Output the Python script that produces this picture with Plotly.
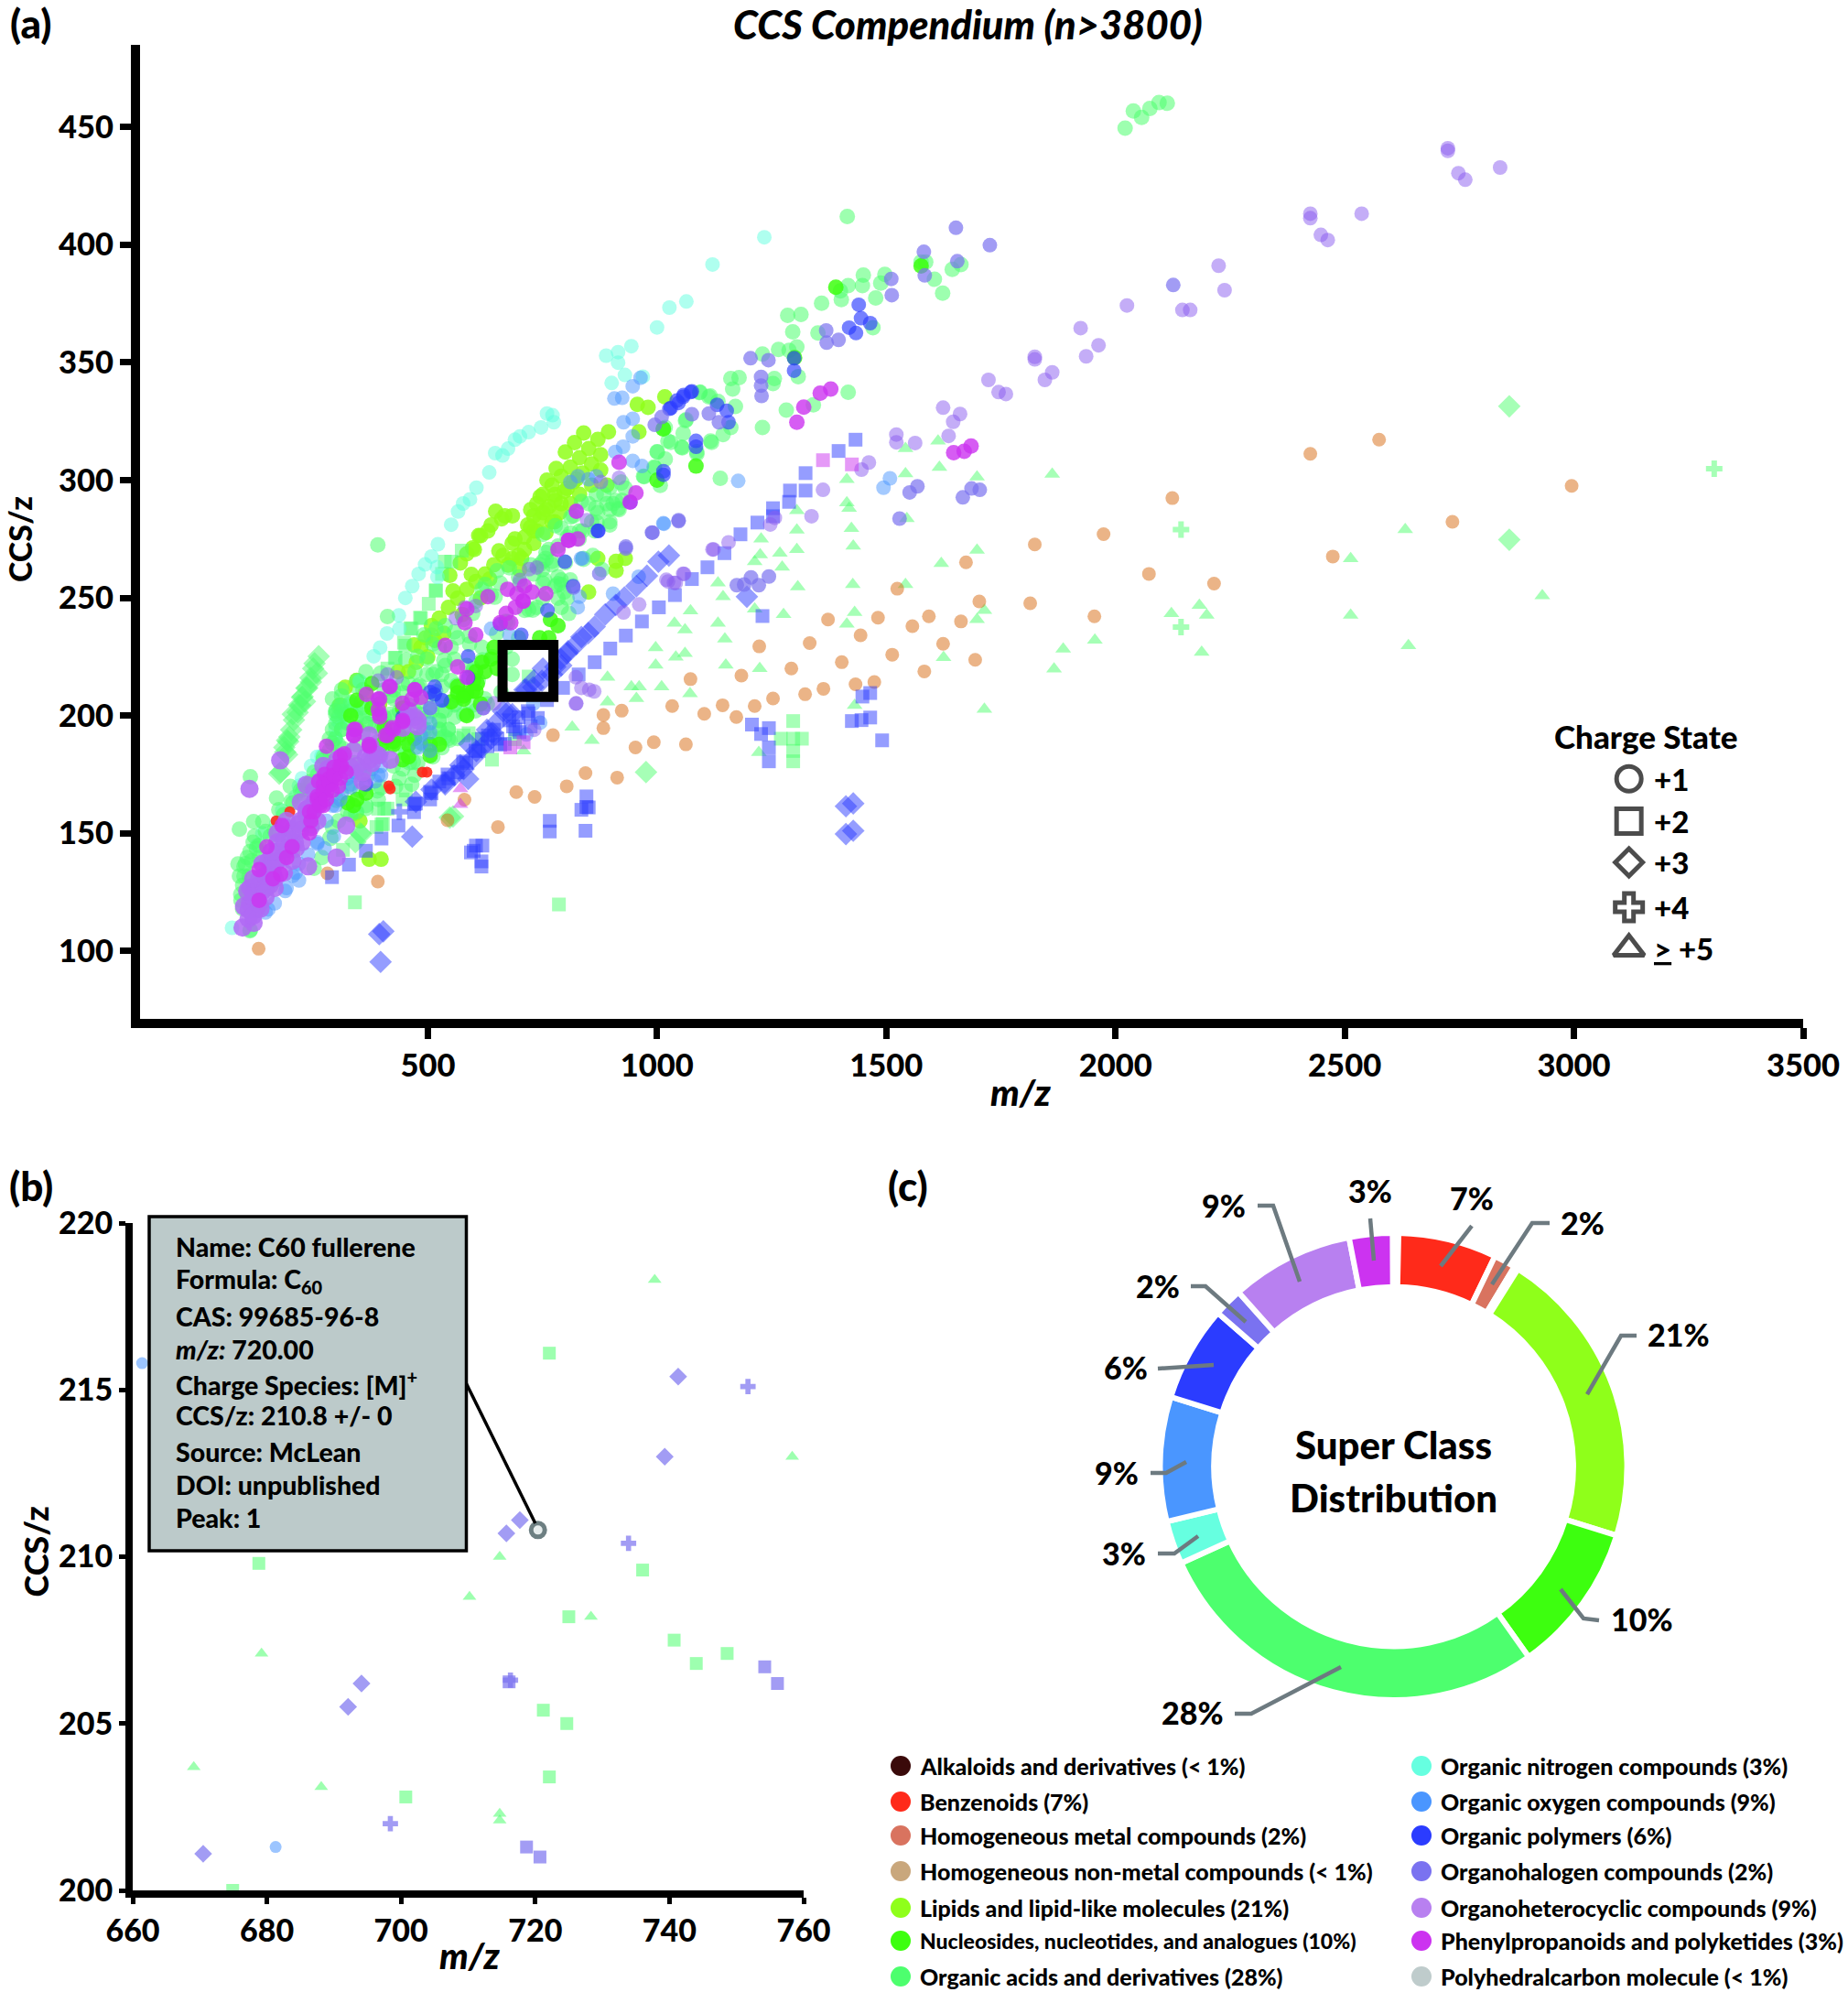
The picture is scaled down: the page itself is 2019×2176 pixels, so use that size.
import plotly.graph_objects as go

W, H = 2019, 2176
FONT = "Lato"
BLACK = "#000000"
LEADER = "#6d7a80"

ACID, LIPID, NUCLEO = "#4dff6e", "#8fff1a", "#3dff0f"
NITRO, OXY, POLY = "#5fffe0", "#4a96ff", "#2b3cff"
HALO, HETERO, HETERO_PALE, PHENYL = "#7a72f0", "#b06af5", "#8a5cf0", "#cc33f0"
BENZ, ORANGE = "#ff2a1a", "#d86a10"

# panel (a), (m/z, CCS/z)
hetero_circle = [(2725,441),(2725,439.9),(2748,430.4),(2763,427.6),(2839,432.8),(2425,413.2),(2425,411.3),(2448,404.2),(2463,402),(2537,413.2),
    (2225,391.1),(2238,380.7),(2025,374.2),(2146,372.3),(2163,372.3),(1924,364.6),(1963,357.3),(1936,352.6),(1824,352.4),(1824,351.3),
    (1862,345.8),(1846,342.6),(1723,342.6),(1745,337.4),(1761,336.6),(1624,330.8),(1661,328.1),(1646,324.8),(1636,318.8),(1563,315.8),
    (1522,319.4),(1522,316.1),(1462,307.5),(1446,304.5),(1362,295.9),(1337,284.7),(1247,281.2),(1257,284),(1156,273.6),(1121,270.6),
    (1024,257),(1041,256.4),(1059,260.2),(961,247.2),(927,243.8),(823,216.3),(852,211),(835,211.8),(863,210.3),(823,205.1),(732,194),
    (877.4,299.2),(917.2,301),(824,286.8),(847.4,283),(721,262.2),(737.7,262.9),(1020.3,257.7),(1057,260.3),(1037,256.4),(1123.4,270.6),
    (701,257.6),(604.6,246.6),(581,246),(561,241.4),(824,205.2),(621,203.2),(644.5,205.2),(412,217.5),(432,216.2),(392,214.9)]
hetero_blob = [(109,113.8),(112,120.3),(112,126.8),(139,125.5),(126,117.7),(146,122.9),(166,126.8),(132,130.7),(162,133.3),(186,133.3),(152,138.4),(182,139.7),
    (205,138.4),(172,146.2),(199,147.5),(222,151.4),(189,152.7),(225,146.2),(245,152.7),(222,155.3),(259,155.3),(245,157.9),(372,191.6),(358,172.1),(458,199.4),(478,198),
    (418,181.2),(372,181.2),(385,183.8),(338,185.1),(332,178),(322,153.3),(301,139.7),(239,136),(235,170.6),(223,163.3),(178,181),(111,168.9),(272,178.6),
    (96,110),(120,112),(135,118),(155,128),(120,125),(170,138),(210,146),(235,160),(255,164),(150,130),
    (109,117.7),(99,119),(119,122.9),(106,125.5),(132,128.1),(119,130.7),(146,132),(139,137.1),(159,137.1),(172,142.3),(159,142.3),(186,147.5),(172,150.1),(205,151.4),(192,155.3),
    (219,154),(235,157.9),(252,163),(239,160.5),(265,167),(252,168.2),(279,172.1),(265,172.1),(295,177.3),(282,177.3),(312,182.5),(302,181.2),(195,143.6),(212,143.6),(146,126.8),
    (166,130.7),(132,120.3),(119,115.1),(365,182.5),(378,179.9),(345,178.6),(358,176),(458,202),(471,199.4),(445,194.8),(478,195.5),(375,187),(392,183.2)]
phenyl_circle = [(132,121.6),(162,130.7),(132,134.6),(179,132.6),(192,139.7),(204,144.3),(149,144.3),(182,153.3),(242,150.1),(245,155.3),(252,159.2),(265,163),(279,167),
    (259,165.7),(289,170.8),(272,161.8),(299,174.7),(285,173.4),(312,178.6),(309,182.5),(272,170.8),(342,194.2),(338,191.6),(373,187),(395,199.4),(395,207.1),(366,209),(416,212.3),
    (471,211),(445,197.4),(422,194.8),(408,191.6),(465,207),(485,207.8),(392,202.6),(604.6,234.3),(538,229.8),(581,239.5),(585,245.3),(674,253.7),(727.6,252.5),(757.5,251.8),(708,248.6),
    (671,243.4),(681,239.5),(658,239.5),(691,246),(711,255),(784,270.6),(807,274.5),(827,275),(824,286.8),(392,207),(418,212.3),(472,211),(445,205.2),(395,200.6),(445,198),(425,194.1),
    (412,191.5),(339,194.1),(339,191.5),(372,187.7),(279,187),(585,216.2),(565,220.7),(631,250.5),(917.2,307.6),(954,294.6),(941,290.7),(807.5,274.5),(694.5,251.8),(707.8,248.6),
    (1379,338.7),(1356,337),(1320,331),(1305,324.6),(1647,311.7),(1670,312.3),(1685,314.5),(295,178),(305,170),(275,175),(262,172),
    (242,159.2),(259,164.4),(272,167.6),(285,171.5),(295,174.7),(309,178.6),(318,183.8),(265,161.8),(279,164.4),(292,168.2),(309,173.4),(322,176)]
phenyl_triangle = [(571,169),(571,162.3)]
phenyl_square = [(680,186.5),(709,188.7),(1362,308.5),(1425,306.7)]
orange_circle = [(2425,311.2),(2575,317.2),(2995,297.6),(2735,282.3),(2474,267.6),(2124,292.4),(1974,277.1),(1824,272.7),(1674,265.1),(2073,260.2),
    (2215,256.1),(1703,248.5),(1814,247.7),(1593,242.2),(1663,240),(1954,242.2),(1557,238),(1624,230.5),(1694,223.7),(1583,218.8),(1524,253.9),
    (1373,240.8),(1482,241.6),(1444,234.1),(1333,230.8),(1223,229.4),(1513,225.9),(1403,222.7),
    (1293,220),(1184,217),(1073,215.5),(1474,214.3),(1433,213.3),(1363,211.4),(1323,209.1),(1253,207.3),(1213,204.1),(1143,204.4),(1033,204.1),
    (1173,199.4),(1103,200.8),(923,202.1),(883,200.3),(883,194.7),(993,188.7),(953,186.5),(1063,187.8),(844,175.6),(913,173.7),(803,170),(693,167.5),
    (733,165.5),(653,152.7),(580,164.3),(543,155.6),(391,129.5),(281,133),(131,101),(773,191.7)]
poly_square = [(1253,284.7),(1219,282),(1182,277),(1147,269),(1110,263),(1076,258),(1039,251.2),(1004,246),(967,240),(932,234),(898,228.5),(864,222.7),
    (829,217.5),(795,211.8),(760,206.6),(720,201),(686,195.4),(652,190.2),(611,185),(577,180.5),(543,175),(508,167),(474,162.7),(1433,317.2),(1396,312.4),
    (1324,303),(1324,295.6),(1290,295.6),(1288,290.8),(1253,288.1),(1230,242.3),(1465,209.6),(1448,208.1),(1465,199.2),(1446,198.1),(1425,197.7),(1491,189.5),
    (1207,196.2),(1244,194.7),(1227,192.2),(1244,186.5),(1244,180.6),(846,165.7),(846,161.2),(835,160),(851,161),(766,155.3),(766,150.8),(844,151.1),
    (594,141.9),(605,144.8),(619,144.8),(600,142.6),(617,138.1),(617,135.9),(291,131.4),(328,136.7),(365,142.6),(399,147.8),(436,153.3),(470,159),
    (740,199),(700,193),(668,188),(630,187),(525,172),(545,173.4),(565,176),(584,179.9),(604,185.1),(631,191.6),(505,167.6),(471,162.4),(505,164.4),
    (678,198),(644.5,194),(618,190.2),(718,201.9),(658,187.7),(691,194.1),(724.3,195.4),(698,199.3)]
poly_diamond = [(1026,268),(1003,265.4),(978,259.4),(955,255),(929,250.2),(887,243),(864,237.8),(835,233.4),(806,227.4),(778,220.7),(749,214.8),(715,211),
    (674,201.4),(629,194),(606,185),(571,179),(537,171.6),(508,168.6),(474,163.4),(466,148.6),(588,173.1),(1412,161.5),(1428,162.7),(1412,149.7),(1428,151.1),
    (394,107.2),(403,108.4),(397,95.4),(1196,250.5),(910,247),(850,235),(790,224),(730,212),(650,197),(590,188),(538,170.8),(558,174.7),(578,177.3),(598,181.9),(618,186.4),(638,190.3),
    (824,230.4),(804,226.5),(791,221.3),(771,217.5),(751,220),(731,214.9),(711,211),(684.4,200.6),(664,201.9),(641,192.8)]
poly_plus = [(438,159.2)]
halo_circle = [(1174,255.4),(1190,255.7),(1205,258.7),(1222,255.4),(1244,259.1),(1582,397),(1584,387),(1511,385.5),(1512,378.6),(1369,363.6),(1396,359.6),(1370,358.4),
    (1204,351.8),(1243,351),(1227,343.9),(1227,340.2),(1228,335.8),(1568,297.4),(1551,294.8),(1529,283.7),(1047,282.6),(990,277.7),(932,271.8),
    (1652,407.2),(1726,399.8),(1655,393),(1667,292.7),(1686,296.5),(1704,295.9),(2126,382.9),(1113,328.3),(1135,324.6),(1076,328),(995,323.5),(1010,326.8),
    (989,277.8),(1047,283),(931.9,271),(874,260.3),(817.5,254.4),(621,203.2),(505,203.2)]
poly_circle = [(1440,374.5),(1445,368.8),(1465,366.7),(1419,364.8),(1434,362.5),(1299,351.8),(1299,346.5),(1076,337.7),(1058,336.2),(1043,333.8),(1030,330.6),
    (1131,332),(1152,329.5),(1156,324.6),(1085,316.7),(1085,314.2),(1014,303.8),(1014,302.3),(872,278.5),(515,212.3),(515,209),(531,206.5),(588,225.2),(658,238.9),(761,244.7),(799,265.4),
    (588,216.2),(704,234.3),(817,255),(1047,332.8),(1027,330.3),(1073.5,337.4),(1057,335.4),(870.7,278.4),(941.9,290.7),(445,199.4),(365,170.8),(505,210)]
oxy_circle = [(1177,299.7),(1508,300.8),(1494,296.8),(1015,281.5),(947,339.9),(964,343.5),(907,334.7),(924,335),(947,326.1),(927,324.6),(947,318.6),(926,314.2),(909,312),
    (967,306),(947,308.2),(505,203.2),(518,210.4),(531,206.5),(505,196.8),(295,148.8),(219,130),(189,125.5),(259,145.6),(275,143.6),(392,174.7),(332,169.5),(309,164.4),(292,161.8),(345,174.7),
    (485,191.6),(485,188.3),(505,185.1),(212,133.3),(152,117.7),(638,236.9),(834,266.7),(827,246),(831,250.5),(678,234.3),(837.5,266.8),(1013.7,281.7),(960,259),(904,251.8),(730,205),(745,197),(715,192),
    (192,126.8),(205.5,132),(219,137.1),(239,141),(259,146.2),(279,155.3),(298.6,161.8),(312,167),(332,170.8),(352,177.3),(378,177.3),(398,174.7),(385,172.1),(338,176),(325,173.4),(146,116.4),(166,120.3),
    (398,182.5),(505,192.9),(478,186.4),(398,178.6),(811,299.2),(827.5,301.7),(850.7,300.4),(867.4,301.7)]
nitro_circle = [(1234,403.2),(1121,391.6),(1064,375.9),(1027,373.3),(1000,364.9),(944,356.9),(915,354.4),(889,352.9),(915,349.9),(930,344.7),(901,341.3),(969,344),
    (772,327.6),(760,328.3),(775,324.6),(747,322.4),(720,320.4),(701,318.6),(690,317.2),(675,313.4),(647,311.5),(663,310.5),(634,303.3),(606,296.8),(592,291.9),(577,290.1),
    (566,286.7),(551,281.1),(522,272.8),(508,267.6),(494,264.2),(520,263.1),(480,260.2),(466,255),(451,250),(437,242.6),(411,234.9),(396,228.9),(382,225.2),
    (351,214.8),(331,205.1),(308,196.9),(268,182.8),(227,168.6),(182,159.7),(127,144.8),(73,109.9),(352,214.3),(338,204.5),(318,197.4),(298,190.9),(521,258.9),(438,236.9),(312,199.3),(299,190.2),
    (258.7,182.5),(245.4,178.6),(225.5,173.4),(218.8,170.2),(212,165.7),(169,154),(139,150),(312,201.9),(302,198),(298.6,194.2)]
acid_fill = [(508,234),(453,223.5),(398,218),(343,212.7),(301,202),(536,223.5),(591,234),(481,212.7),(426,207.3),(370,196.5),(315,185.8),(274,175),(563.5,212.7),(508,202),(453,193.8),(398,185.8),
    (356,175),(301,164.2),(246,153.4),(205,142.6),(163,131.8),(536,191),(467,180.4),(398,169.6),(343,158.8),(287.5,148),(646,250.5),(701,255.9),(757,266.6),(812,277.4),(867,288.2),(922,299),
    (674,239.7),(619,223.5),(729,245),(784,255.9),(839.5,266.6)]
acid_circle = [(2021,449.5),(2039,456.8),(2057,454.1),(2075,457.9),(2095,460.4),(2113,460.1),(1576,392.7),(1586,392.7),(1605,385.4),(1623,379.4),(1644,389.5),(1663,391.6),
    (1415,412),(1450,387.1),(1448,382.6),(1417,382.6),(1400,380.4),(1402,376.7),(1359,375.2),(1497,387.4),(1488,383.7),(1477,377.4),(1471,364.8),(1285,370),(1314,370.4),(1296,363),
    (1351,362.5),(1265,355.5),(1288,355.1),(1305,356.6),(1230,353.6),(1161,343.2),(1179,343.6),(1165,338.7),(1256,343.2),(1253,341),(1308,344),(1417,337.3),(1341,332),(1282,329.8),
    (1230,322.4),(1093,337.2),(1116,335.8),(1133,333.5),(1171,331.3),(1161,322.4),(1144,319.4),(1119,316.1),(1087,311.2),(1055,313.7),(1030,316.1),(1001,312),(1007,297.8),(995,305.3),
    (1018,309),(972,301.5),(1138,300.8),(1062,325.3),(1018,322.4),(915,288),(898,297),(835,291),(812,284.4),(778,280.7),(869,282),(1013.7,321.8),(1063.6,325.7),(1093.5,337.4),(1113,335.4),(1057,319.9),
    (1023.7,316.6),(1053.6,314),(1116.7,316.6),(1086.8,312.1),(1000,312.1),(993.7,305.6),(970.5,301.7),(910.6,291.4),(917.2,287.5),(890.6,290),(897,282.3),(867.4,294),(930.6,296.6),(784,259),(791,255.7),(771,265.5),(754.3,257.7),
    (113,109),(113,174),(391,272.5),(89,151.8),(122,148.8),(146,150.8),(112,142.3),(102,137.1),(99,131.9),(92,124.2),(112,108.6),(116,138.4),(132,139.7),(126,143.6),(156,148.8),(202,163.7),(222,168.2),(245,172.1),(259,174.7),
    (269,139.7),(252,135.2),(332,157.9),(365,161.8),(352,168.2),(390,168),(471,174.7),(511,182.5),(531,186.4),(578,200.6),(598,204.5),(548,189.6),(525,198),(438,186.4),(425,191.6),(405,199.4),(345,199.4),(312,201.9),(305,203.9),
    (312,194.2),(292,188.3),(272,182.5),(345,187.7),(625,255.7),(651,261.5),(678,262.8),(618,253.7),(605,248.6),(638,251.2),(598,243.4),(578,240.8),(558,235.6),(538,238.2),(518,236.9),(511,230.4),(491.5,234.3),(472,218.7),(518,218.7),
    (531,212.3),(565,208.4),(618,229.1),(591,230.4),(671,229.1),(684,224),(684,217.5),(698,233),(731,260.2),(751,277),(771,264.1),(791,257.6),(784,249.9),(804,249.9),(412,242.1),(365,218.7),(345,214.9),(312,204.5),(299,196.7),(319,200.6),
    (378,200.6),(412,195.4),(418,200.6),(445,209.7),(478,212.3),(511,217.5),(485,205.8),(545,190.3),(525,194.1),(498,199.3),(405,211),(425,211),(458,213.6),(355,205.8),(305,187.7),(340,180),(370,175),(400,185),(430,170),(460,180),(300,182),
    (280,170),(325,170),(150,135),(105,125),(96,118),(110,132),(140,155),(175,160),(200,170),(170,165),(120,155),(670,240),(640,225),(650,235),(610,215),(720,245),(750,262),(830,275),(860,268),(880,262),(800,265),(560,205),(630,205),(660,210),(600,220),
    (305,199.4),(325,196.8),(345,201.9),(365,196.8),(385,195.5),(418,189),(451.5,190.3),(471.5,186.4),(451.5,183.8),(478,179.9),(445,177.3),(438,173.4),(465,170.8),(425,178.6),(392,164.4),(365,160.5),(345,159.2),(325,159.2),(305,155.3),(292,152.7),
    (511,208.4),(538,202),(558,204.5),(545,194.2),(565,190.3),(604,202),(624.5,207.1),(525,190.3),(525,194.2),(505,190.3),(491.5,194.2),(485,200.6),(425,199.4),(358,203.2),(332,205.8),(312,208.4),(298.6,201.9),(312,211),(292,207.1),
    (99,135.9),(89,131.9),(96,128),(92.5,121.6),(86,137),(119,146.2),(106,139.7),(132,144.9),(165.6,151.4),(185.6,157.9),(205.5,163),(225.5,167),(238.8,170.8),(252,176),(272,181.2),(285,185.1),(298.6,190.3),
    (525,229),(551,229),(565,233),(538,221.3),(558,224),(585,221.3),(598,218.7),(498,224),(478,225.2),(498,217.5),(531,217.5),(551,214.9),(445,213.6),(418,208.4),(458,204.5),(378,204.5),(358.5,211),(332,201.9),(358.5,199.3),(398.5,198),(438,201.9),(472,201.9),
    (531,201.9),(558,199.3),(585,200.6),(498,194.1),(525,198),(545,194.1),(358.5,192.8),(392,189),(299,200.6),(312,194.1),(292,194.1),(285.4,190.2),(465,190.2),(491.5,187.7),(398.5,194.1),
    (658,256.3),(698,258.9),(744,264.1),(751,249.9),(777.5,255),(797.5,252.5),(751,256.3),(737.6,246),(810.8,257.6),(711,244.7),(791,246),(807.5,243.4),
    (904,290),(924,291.4),(897,287.5),(870.7,286.2),(857.4,282.3),(831,278.4),(804,275.8),(784,272),(764,270.6),(751,265.5),(724.4,264.1),(757.7,269.3),(884,294),(850.7,290),(817.5,284.9),(791,279.7),(864,278.4),(897,281),(837.5,278.4)]
acid_square = [(574,270.1),(537,265.4),(517,253.2),(502,247.5),(483,241.6),(462,237.1),(451,229.7),(430,224.5),(405,160.5),(399,153.8),(341,120.7),(786,119.8),(640,181.3),(589,192.5),
    (1297,197.7),(1270,190.2),(1316,190.2),(1297,190.2),(1297,185),(1297,180.6),(720,216.6),(690,190),(610,190),(392,160.5),(412,160.5),(388,152.7),(402,154),(578,191.6),(452,168.2),(445,164.4),(315,143),(551,265.4),(531,260.2),(518,253.1),(485,241.4),(465,236.9),(448,231),(428,224.6),(412,220)]
acid_diamond = [(262,225.2),(250,220),(237,211.8),(222,204.4),(208,198.1),(193,189.5),(193,183.5),(176,175.3),(253,222.2),(227,208.1),(216,201.4),(202,194),(187,186.5),(976,176),(548,156.7),
    (353,150),(342,146.3),(2859,331.4),(2859,274.7),(258,218),(244,216),(232,206),(198,191),(245,214.3),(235,211.7),(225.5,207.8),(219,204.5),(205.5,200.6),(195.5,189),(189,184.5),(179,176),(355,149.5),(555,157.2)]
acid_plus = [(2143,279),(2143,237.6),(3306,304.9)]
acid_triangle = [(1613,316.6),(1616,305.5),(1698,301.4),(1862,302.5),(1698,270.3),(1620,264.6),(1714,244.7),(1698,240.8),(1625,224.7),(1714,202.7),(1886,228.3),(1866,219.8),(1955,232.1),
    (2122,243.3),(2183,246.8),(2199,242.7),(2188,226.9),(2513,266.7),(2513,242.7),(2632,279),(2639,229.7),(2931,250.9),(1305,278.8),(1428,272),(1424,279.5),(1305,270.6),(1268,269),(1227,275),
    (1213,265.4),(1225,268.3),(1273,263.1),(1307,254.7),(1427,255.7),(1133,256.4),(1144,250.5),(1073,244.5),(1213,245.3),(1276,243),(1431,243.8),(1414,238.9),(1133,239.3),(1038,239.3),(1061,236.4),
    (1148,232.6),(997,228.9),(1041,224.9),(1061,226.4),(997,221.5),(1150,221.5),(1224,220),(892,216.3),(944,212.2),(961,212.2),(1010,212.2),(1072,209.3),(955,207.3),(892,205.8),(1431,204.4),
    (815,195.1),(858,189.5),(1222,184.3),(709,185),(1542,255.7),(1542,313.4),(1542,302.7),(1414,300.3),(1414,290.4),(1419,288.1),(1305,287.1),(1545,283.7)]
lipid_circle = [(894,320.5),(871,317.3),(851,313.4),(877,310.8),(831,309.5),(857.4,306.9),(811,305.6),(837.5,303),(877,304.3),(791,301.7),(817.5,299.2),(857.4,297.9),(890.6,297.9),(771,297.9),(797.6,295.3),(831,294),
    (751,294),(777.6,291.4),(811,290),(737.7,290),(757.7,287.5),(787.6,286.2),(724.4,287.5),(744.4,283.6),(771,282.3),(717.8,281),(737.7,278.4),(711,275.8),(731,273.2),(757.7,277.8),(711,270.6),(704.5,266.8),
    (648,286.8),(668,284.9),(684.5,284.9),(611,276.5),(631,278.4),(601.4,270.6),(661,283.6),(638,281),(615,276.4),(598,271.2),(585,268.7),(571,264.8),(548,259.6),(764,288.7),(777,282.3),(751,286.2),(731,284.9),(731,278.4),
    (684,273.2),(664,268),(644,264.1),(625,260.2),(605,257),(585,253.7),(565,249.9),(545,246),(525,241.4),(508,238.2),(495,233),(485,229.1),(475,222.6),(458,218.7),(435,218.7),(684,266.7),(698,268),(777,293.9),(804,296.5),(791,290),(824,300.4),
    (957,332.2),(980.4,330.9),(960.5,320.5),(1017,335.4),(870.7,266.8),(910.6,265.5),(930.6,266.8),(910.6,261.6),(850.7,252.5),(352,155.3),(372,139),(398,139),(308,204.5),(345,215),(365,210),(395,205),(320,212),(345,195),
    (745,293),(760,300),(780,305),(800,312),(820,316),(840,320),(724,280),(700,262),(690,275),(675,264),(655,270),(635,258),(615,250),(595,260),(575,243),(555,253),(535,235),(515,232),(500,225),(470,230)]
nucleo_circle = [(565,209.7),(585,209.7),(605,210.3),(624.5,218.7),(638,224),(618,222.6),(744,233),(764,233),(767.5,240.8),(784,238.2),(412,190.3),(458,187.7),(578,208.4),(598,210.4),(565,212.3),(425,187.7),(438,191.6),
    (445,181.2),(458,182.5),(345,164.4),(338,161.8),(365,167),(325,163),(378,213.6),(345,206.5),(332,200),(378,203.2),(405,194.8),(445,203.2),(471,190.3),(1013.7,321.8),(1085,306),(1300,352),(1390,382),(1576,391),(1000,300),(600,215),(615,205),(585,200),(505,183),
    (608,213.6),(578,207),(551,205.8),(604.6,218.7),(644.5,229),(651,220),(398.5,187.7),(425,189),(505,187.7),(525,187.7)]
benz_circle = [(415,170.2),(488,176),(169,155.3),(199,159.2),(418,168.9),(498,176)]


def pts(series, i):
    return [p[i] for p in series]


# panel (b)
zoom_acid_triangle_mz = [737.8, 758.3, 714.7, 710.2, 728.3, 679.2, 669.1, 688.1, 714.7, 714.7]
zoom_acid_triangle_ccs = [218.3, 213, 210, 208.8, 208.2, 207.1, 203.7, 203.1, 202.3, 202.1]
zoom_acid_square_mz = [722.1, 678.8, 736, 725, 740.7, 748.6, 744, 721.2, 724.7, 722.1, 700.7, 674.9]
zoom_acid_square_ccs = [216.1, 209.8, 209.6, 208.2, 207.5, 207.1, 206.8, 205.4, 205, 203.4, 202.8, 200]
zoom_halo_diamond_mz = [741.3, 739.3, 717.7, 715.7, 694.1, 692.1, 670.5]
zoom_halo_diamond_ccs = [215.4, 213, 211.1, 210.7, 206.2, 205.5, 201.1]
zoom_halo_plus_mz = [751.7, 733.9, 698.4, 716.3]
zoom_halo_plus_ccs = [215.1, 210.4, 202, 206.3]
zoom_halo_square_mz = [754.2, 756.1, 718.7, 720.7, 716.1]
zoom_halo_square_ccs = [206.7, 206.2, 201.3, 201, 206.25]
zoom_oxy_mz = [661.4, 681.3]
zoom_oxy_ccs = [215.8, 201.3]

# panel (c)
class_names = ["Alkaloids and derivatives (< 1%)", "Benzenoids (7%)", "Homogeneous metal compounds (2%)", "Homogeneous non-metal compounds (< 1%)",
               "Lipids and lipid-like molecules (21%)", "Nucleosides, nucleotides, and analogues (10%)", "Organic acids and derivatives (28%)",
               "Organic nitrogen compounds (3%)", "Organic oxygen compounds (9%)", "Organic polymers (6%)", "Organohalogen compounds (2%)",
               "Organoheterocyclic compounds (9%)", "Phenylpropanoids and polyketides (3%)", "Polyhedralcarbon molecule (< 1%)"]
class_share = [0.2, 6.8, 1.5, 0.3, 20.8, 10.4, 28, 3, 8.6, 6.6, 2, 8.5, 3, 0.2]
class_colors = ["#3a0a0a", "#ff2a1a", "#d9735f", "#c9a77c", "#8fff1a", "#3dff0f", "#4dff6e", "#66ffe0", "#4a96ff", "#2b3cff", "#7a72f0", "#b880f0", "#cc33f0", "#bfcccc"]
pct_labels = ["3%", "7%", "2%", "21%", "10%", "28%", "3%", "9%", "6%", "2%", "9%"]

fig = go.Figure()


def px(x):
    return x / W


def py(y):
    return 1 - y / H


def add_text(x, y, text, size, anchor="center", angle=0):
    fig.add_annotation(xref="paper", yref="paper", x=px(x), y=py(y), text=text, showarrow=False, xanchor=anchor, yanchor="middle",
                       textangle=angle, font=dict(family=FONT, size=size, color=BLACK, weight=900))


def scatter_a(series, color, symbol, size, opacity=0.5):
    fig.add_trace(go.Scatter(x=pts(series, 0), y=pts(series, 1), mode="markers", showlegend=False, hoverinfo="skip",
                             marker=dict(color=color, symbol=symbol, size=size, opacity=opacity, line=dict(width=0))))


def scatter_b(x, y, color, symbol, size, opacity=0.55):
    fig.add_trace(go.Scatter(x=x, y=y, mode="markers", xaxis="x2", yaxis="y2", showlegend=False, hoverinfo="skip",
                             marker=dict(color=color, symbol=symbol, size=size, opacity=opacity, line=dict(width=0))))


scatter_a(acid_fill, ACID, "circle", 18, 0.55)
scatter_a(lipid_circle, LIPID, "circle", 17, 0.85)
scatter_a(acid_square, ACID, "square", 15)
scatter_a(acid_diamond, ACID, "diamond", 19)
scatter_a(acid_triangle, ACID, "triangle-up", 15)
scatter_a(acid_plus, ACID, "cross", 15)
scatter_a(orange_circle, ORANGE, "circle", 15)
scatter_a(nitro_circle, NITRO, "circle", 16)
scatter_a(acid_circle, ACID, "circle", 17, 0.55)
scatter_a(nucleo_circle, NUCLEO, "circle", 17, 0.85)
scatter_a(benz_circle, BENZ, "circle", 12, 0.9)
scatter_a(oxy_circle, OXY, "circle", 16)
scatter_a(poly_square, POLY, "square", 15)
scatter_a(poly_diamond, POLY, "diamond", 19)
scatter_a(poly_plus, POLY, "cross", 15)
scatter_a(poly_circle, POLY, "circle", 16, 0.65)
scatter_a(halo_circle, HALO, "circle", 16, 0.7)
scatter_a(hetero_circle, HETERO_PALE, "circle", 16, 0.5)
scatter_a(hetero_blob, HETERO, "circle", 20, 0.85)
scatter_a(phenyl_circle, PHENYL, "circle", 17, 0.8)
scatter_a(phenyl_triangle, PHENYL, "triangle-up", 15)
scatter_a(phenyl_square, PHENYL, "square", 15)

# charge state key
key_mz = [3120, 3120, 3120, 3120, 3120]
key_ccs = [173.2, 155.2, 137.7, 118.6, 101]
key_symbols = ["circle-open", "square-open", "diamond-open", "cross-open", "triangle-up-open"]
key_sizes = [27, 27, 23, 25, 29]
key_labels = ["+1", "+2", "+3", "+4", "<u>></u> +5"]
key_rows = [850.6, 897, 942, 991, 1036]
fig.add_trace(go.Scatter(x=key_mz, y=key_ccs, mode="markers", showlegend=False, hoverinfo="skip",
                         marker=dict(symbol=key_symbols, size=key_sizes, color=BLACK, line=dict(color=BLACK, width=5))))

scatter_b(zoom_acid_triangle_mz, zoom_acid_triangle_ccs, ACID, "triangle-up", 13)
scatter_b(zoom_acid_square_mz, zoom_acid_square_ccs, ACID, "square", 14)
scatter_b(zoom_halo_diamond_mz, zoom_halo_diamond_ccs, HALO, "diamond", 15, 0.7)
scatter_b(zoom_halo_plus_mz, zoom_halo_plus_ccs, HALO, "cross", 14, 0.7)
scatter_b(zoom_halo_square_mz, zoom_halo_square_ccs, HALO, "square", 14, 0.7)
scatter_b(zoom_oxy_mz, zoom_oxy_ccs, OXY, "circle", 13)
fig.add_trace(go.Scatter(x=[720.4], y=[210.8], mode="markers", xaxis="x2", yaxis="y2", showlegend=False, hoverinfo="skip",
                         marker=dict(color="#e6ecec", size=15, line=dict(color="#6d7f82", width=5))))

fig.add_trace(go.Pie(values=class_share, labels=class_names, sort=False, direction="clockwise", rotation=0.5, hole=0.77, textinfo="none", showlegend=False,
                     hoverinfo="skip", marker=dict(colors=class_colors, line=dict(color="#ffffff", width=6)),
                     domain=dict(x=[px(1522.6 - 255), px(1522.6 + 255)], y=[py(1602 + 255), py(1602 - 255)])))

# black zoom window in (a)
fig.add_shape(type="rect", xref="x", yref="y", x0=663, x1=774, y0=208, y1=230, line=dict(color=BLACK, width=11), layer="above")

# callout in (b)
fig.add_shape(type="line", xref="x2", yref="y2", x0=709.7, y0=215.2, x1=720, y1=211, line=dict(color=BLACK, width=3.5), layer="above")
fig.add_shape(type="rect", xref="paper", yref="paper", x0=px(163), x1=px(509.5), y0=py(1694), y1=py(1329), fillcolor="#bccaca", line=dict(color=BLACK, width=3.5), layer="above")
box_lines = ["Name: C60 fullerene", "Formula: C<sub>60</sub>", "CAS: 99685-96-8", "<i>m/z:</i> 720.00", "Charge Species: [M]<sup>+</sup>", "CCS/z: 210.8 +/- 0",
             "Source: McLean", "DOI: unpublished", "Peak: 1"]
box_rows = [1362, 1399, 1438, 1474, 1511, 1546, 1586, 1622, 1658]
for line, row in zip(box_lines, box_rows):
    add_text(190, row, line, 28.5, "left")

# leader lines in (c), pixel paths
leaders = [
    [(1497, 1331), (1501, 1377)],
    [(1608, 1339), (1574, 1383)],
    [(1693, 1336), (1674, 1336), (1630, 1403)],
    [(1788, 1459), (1771, 1459), (1734, 1523)],
    [(1747, 1770), (1730, 1768), (1705, 1736)],
    [(1349, 1872), (1367, 1872), (1465, 1821)],
    [(1265, 1697), (1283, 1697), (1309, 1678)],
    [(1257, 1609), (1274, 1609), (1296, 1597)],
    [(1265, 1495), (1326, 1491)],
    [(1301, 1405), (1317, 1405), (1361, 1444)],
    [(1374, 1317), (1391, 1317), (1420, 1400)],
]
pct_pos = [(1497, 1300), (1608, 1308), (1729, 1335), (1834, 1457), (1794, 1768), (1303, 1870), (1228, 1696), (1220, 1608), (1230, 1493), (1265, 1404), (1337, 1316)]
for path, label, pos in zip(leaders, pct_labels, pct_pos):
    d = "M " + " L ".join(f"{px(x):.5f} {py(y):.5f}" for x, y in path)
    fig.add_shape(type="path", xref="paper", yref="paper", path=d, line=dict(color=LEADER, width=4.5), layer="above")
    add_text(pos[0], pos[1], label, 34)

legend_rows = [1929, 1968, 2005, 2044, 2084, 2120, 2159]
legend_sizes = [25, 25, 25, 25, 25, 23, 25, 25, 25, 25, 25, 25, 25, 25]
for i, (name, color) in enumerate(zip(class_names, class_colors)):
    row = legend_rows[i % 7]
    cx, tx = (984, 1003) if i < 7 else (1553, 1572)
    fig.add_shape(type="circle", xref="paper", yref="paper", x0=px(cx - 11), x1=px(cx + 11), y0=py(row + 11), y1=py(row - 11), fillcolor=color, line=dict(width=0))
    add_text(tx, row, name, legend_sizes[i], "left")

for label, row in zip(key_labels, key_rows):
    add_text(1805, row, label, 33, "left")
add_text(1798, 804, "Charge State", 35)

add_text(33, 25, "(a)", 44)
add_text(34, 1295, "(b)", 44)
add_text(992, 1295, "(c)", 44)
add_text(1057, 26, "<i>CCS Compendium (n>3800)</i>", 43.5)
add_text(21, 589, "CCS/z", 34, angle=-90)
add_text(1115, 1193, "<i>m/z</i>", 40)
add_text(38.5, 1695, "CCS/z", 36, angle=-90)
add_text(513, 2136, "<i>m/z</i>", 40)
add_text(1522.6, 1578, "Super Class", 42)
add_text(1522.6, 1636, "Distribution", 42)

axis_font = dict(family=FONT, size=34.5, color=BLACK, weight=900)
fig.update_layout(
    width=W, height=H, margin=dict(l=0, r=0, t=0, b=0), paper_bgcolor="white", plot_bgcolor="white", showlegend=False,
    xaxis=dict(domain=[px(153), px(1970)], range=[-127.7, 3500], tickvals=[500, 1000, 1500, 2000, 2500, 3000, 3500], anchor="y", automargin=False,
               showgrid=False, zeroline=False, showline=True, linecolor=BLACK, linewidth=10, ticks="outside", ticklen=12, tickwidth=7, tickcolor=BLACK, tickfont=axis_font),
    yaxis=dict(domain=[py(1113), py(49)], range=[71.2, 484.9], tickvals=[100, 150, 200, 250, 300, 350, 400, 450], anchor="x", automargin=False,
               showgrid=False, zeroline=False, showline=True, linecolor=BLACK, linewidth=10, ticks="outside", ticklen=12, tickwidth=7, tickcolor=BLACK, tickfont=axis_font),
    xaxis2=dict(domain=[px(145), px(878)], range=[660, 760], tickvals=[660, 680, 700, 720, 740, 760], anchor="y2", automargin=False,
                showgrid=False, zeroline=False, showline=True, linecolor=BLACK, linewidth=8, ticks="outside", ticklen=7, tickwidth=5, tickcolor=BLACK, tickfont=dict(axis_font, size=34)),
    yaxis2=dict(domain=[py(2065), py(1336)], range=[200, 220], tickvals=[200, 205, 210, 215, 220], anchor="x2", automargin=False,
                showgrid=False, zeroline=False, showline=True, linecolor=BLACK, linewidth=8, ticks="outside", ticklen=7, tickwidth=5, tickcolor=BLACK, tickfont=dict(axis_font, size=34)),
)

fig.write_html("out.html", config={"displayModeBar": False}, post_script="document.body.style.margin='0';")
